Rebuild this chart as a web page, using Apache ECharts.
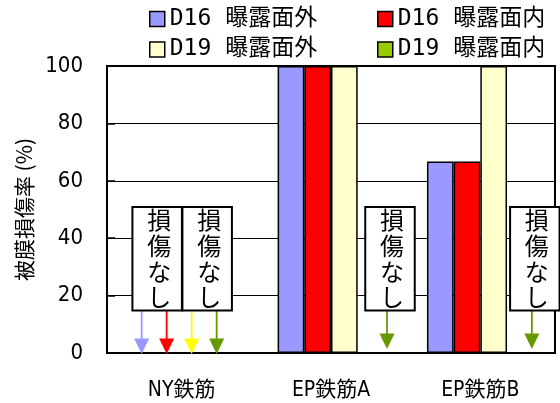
<!DOCTYPE html>
<html>
<head>
<meta charset="utf-8">
<script src="https://cdn.jsdelivr.net/npm/echarts@6/dist/echarts.min.js"></script>
<style>
  html, body { margin: 0; padding: 0; background: #fff; }
  #chart { width: 560px; height: 403px; }
</style>
</head>
<body>
<div id="chart"></div>
<script>
// ---- data ----
const categories = ['NY鉄筋', 'EP鉄筋A', 'EP鉄筋B'];
const seriesNames = ['D16 曝露面外', 'D16 曝露面内', 'D19 曝露面外', 'D19 曝露面内'];
const d16Outer = [0, 100, 66.7];
const d16Inner = [0, 100, 66.7];
const d19Outer = [0, 100, 100];
const d19Inner = [0, 0, 0];
const yTicks = [0, 20, 40, 60, 80, 100];
const noDamageText = '損傷なし';
const yAxisTitle = '被膜損傷率 (%)';

// ---- styling ----
const seriesValues = [d16Outer, d16Inner, d19Outer, d19Inner];
const barColors = ['#9999ff', '#ff0000', '#ffffcc', '#99cc00'];
const arrowColors = ['#9999ff', '#ff0000', '#ffff00', '#669900'];
const CJK = '"Noto Sans CJK JP"';
const MONO = '"DejaVu Sans Mono", ' + CJK + ', monospace';
const NARROW = '"Liberation Sans Narrow", "Arial Narrow", "DejaVu Sans Condensed", ' + CJK + ', sans-serif';

// horizontal offset (px) of each "no damage" arrow from its category centre
const ARROW_DX = [[-40, -15, 10, 35], [0, 0, 0, 56], [0, 0, 0, 51.5]];
// how far above the axis each category's arrow tips stop (px)
const ARROW_TIP_LIFT = [0, 5, 5];

// zero-valued bars get a "損傷なし" box with arrows; group them two per box
const noDamageGroups = [];
categories.forEach((_, c) => {
  const zeros = seriesValues.map((v, s) => (v[c] === 0 ? s : -1)).filter(s => s >= 0);
  for (let i = 0; i < zeros.length; i += 2) {
    noDamageGroups.push({ cat: c, members: zeros.slice(i, i + 2) });
  }
});

function renderNoDamage(params, api) {
  const g = noDamageGroups[params.dataIndex];
  const base = api.coord([g.cat, 0]);
  const cx = base[0], y0 = base[1];
  const xs = g.members.map(s => cx + ARROW_DX[g.cat][s]);
  const mid = xs.reduce((a, b) => a + b, 0) / xs.length + 3;
  const boxTop = y0 - 146;
  const boxBot = y0 - 42.5;
  const children = [];
  g.members.forEach((s, i) => {
    const x = xs[i];
    const tip = y0 + 1 - ARROW_TIP_LIFT[g.cat];
    children.push({
      type: 'line',
      shape: { x1: x, y1: boxBot, x2: x, y2: tip - 14 },
      style: { stroke: arrowColors[s], lineWidth: 1.8 }
    });
    children.push({
      type: 'polygon',
      shape: { points: [[x - 7.5, tip - 15.5], [x + 7.5, tip - 15.5], [x, tip]] },
      style: { fill: arrowColors[s] }
    });
  });
  children.push({
    type: 'rect',
    shape: { x: mid - 24.75, y: boxTop, width: 49.5, height: boxBot - boxTop },
    style: { fill: '#fff', stroke: '#000', lineWidth: 2 }
  });
  children.push({
    type: 'text',
    style: {
      text: noDamageText.split('').join('\n'),
      x: mid + 2, y: (boxTop + boxBot) / 2,
      align: 'center', verticalAlign: 'middle',
      font: '24px ' + CJK, lineHeight: 25.7, fill: '#000'
    }
  });
  return { type: 'group', children };
}

const chart = echarts.init(document.getElementById('chart'), null, { renderer: 'canvas' });

const legendLeft = [149, 377];
const legendTop = [7, 37.5];

chart.setOption({
  animation: false,
  backgroundColor: '#fff',
  grid: {
    left: 107, right: 5, top: 66, bottom: 50,
    show: true, borderColor: '#000', borderWidth: 2, backgroundColor: 'transparent'
  },
  legend: seriesNames.map((name, i) => ({
    data: [name],
    left: legendLeft[i % 2],
    top: legendTop[Math.floor(i / 2)],
    padding: 0,
    itemGap: 0,
    itemWidth: 15,
    itemHeight: 15,
    icon: 'rect',
    selectedMode: false,
    itemStyle: { borderColor: '#000', borderWidth: 1.5 },
    textStyle: { fontFamily: MONO, fontSize: 23, lineHeight: 24, color: '#000' }
  })),
  xAxis: {
    type: 'category',
    data: categories,
    axisLine: { lineStyle: { color: '#000', width: 2 } },
    axisTick: { inside: true, length: 7, lineStyle: { color: '#000', width: 1.5 } },
    axisLabel: { color: '#000', fontSize: 21, fontFamily: NARROW, margin: 27 }
  },
  yAxis: {
    type: 'value',
    min: yTicks[0],
    max: yTicks[yTicks.length - 1],
    interval: yTicks[1] - yTicks[0],
    name: yAxisTitle,
    nameLocation: 'middle',
    nameRotate: 90,
    nameGap: 72,
    nameTextStyle: { color: '#000', fontSize: 21, fontFamily: CJK },
    axisLine: { show: true, lineStyle: { color: '#000', width: 2 } },
    axisTick: { show: true, inside: true, length: 8, lineStyle: { color: '#000', width: 1.5 } },
    axisLabel: { color: '#000', fontSize: 22, fontFamily: NARROW, margin: 24 },
    splitLine: { show: true, lineStyle: { color: '#000', width: 1 } }
  },
  series: seriesNames.map((name, i) => ({
    name,
    type: 'bar',
    data: seriesValues[i],
    barGap: '0%',
    barCategoryGap: '28.5%',
    itemStyle: { color: barColors[i], borderColor: '#000', borderWidth: 1.5 }
  })).concat([{
    type: 'custom',
    name: 'noDamage',
    coordinateSystem: 'cartesian2d',
    clip: false,
    z: 5,
    data: noDamageGroups.map(g => [g.cat, 0]),
    renderItem: renderNoDamage
  }])
});
</script>
</body>
</html>
